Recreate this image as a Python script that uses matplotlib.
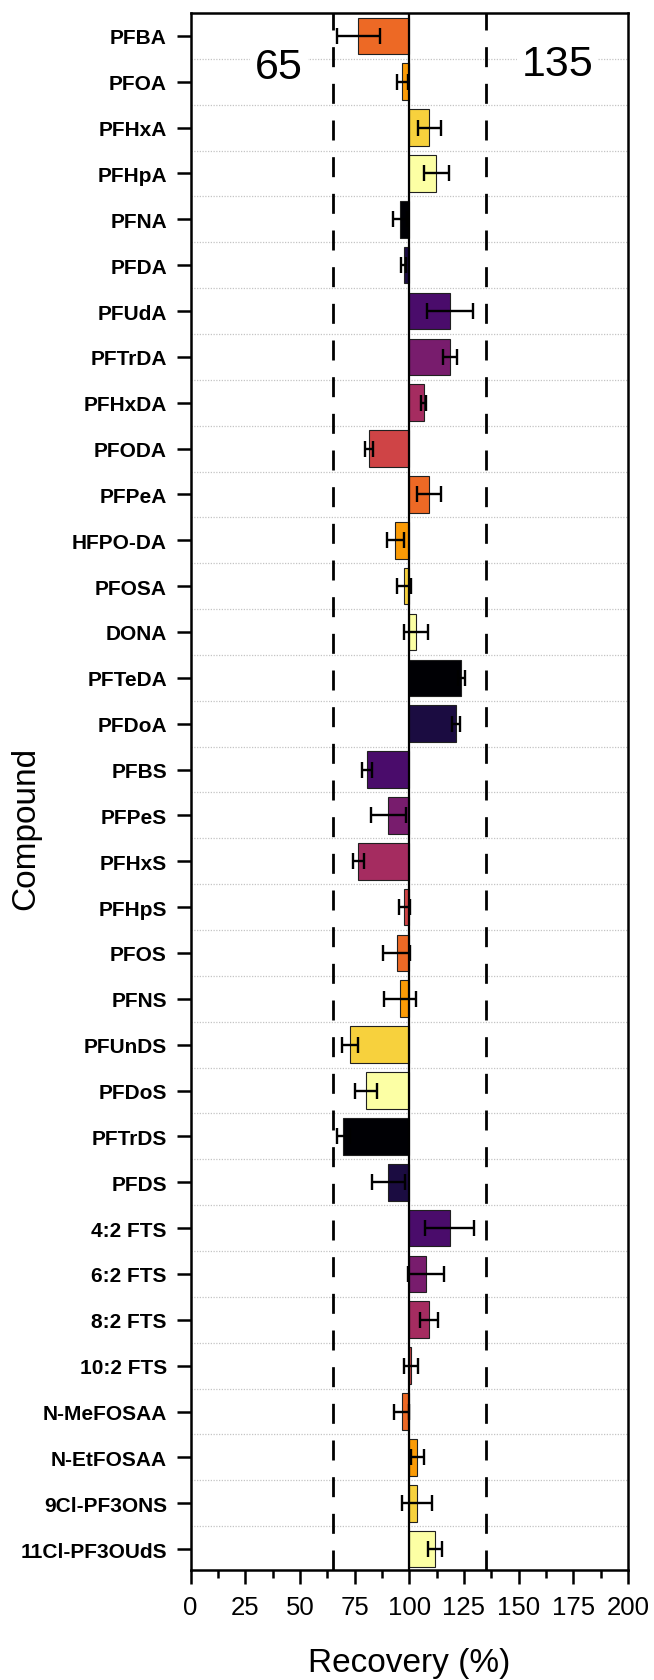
import numpy as np
import matplotlib
matplotlib.use("Agg")
import matplotlib.pyplot as plt
from matplotlib.ticker import MultipleLocator

# Compounds, top to bottom
compounds = ["PFBA", "PFOA", "PFHxA", "PFHpA", "PFNA", "PFDA", "PFUdA",
             "PFTrDA", "PFHxDA", "PFODA", "PFPeA", "HFPO-DA", "PFOSA",
             "DONA", "PFTeDA", "PFDoA", "PFBS", "PFPeS", "PFHxS", "PFHpS",
             "PFOS", "PFNS", "PFUnDS", "PFDoS", "PFTrDS", "PFDS",
             "4:2 FTS", "6:2 FTS", "8:2 FTS", "10:2 FTS", "N-MeFOSAA",
             "N-EtFOSAA", "9Cl-PF3ONS", "11Cl-PF3OUdS"]
# Mean recovery (%)
recovery = [76.8, 96.9, 109.1, 112.3, 96.0, 97.4, 118.6, 118.6, 106.6, 81.6,
            109.1, 93.6, 97.8, 103.0, 123.8, 121.3, 80.8, 90.4, 76.8, 97.8,
            94.2, 95.7, 72.8, 80.2, 69.9, 90.4, 118.6, 107.7, 109.1, 100.6,
            96.5, 103.7, 103.7, 111.7]
# Standard deviation (%)
std_dev = [9.7, 2.4, 5.2, 5.7, 3.2, 1.1, 10.5, 3.2, 1.0, 1.7,
           5.5, 3.8, 3.2, 5.4, 1.5, 1.7, 2.3, 7.9, 2.5, 2.7,
           6.3, 7.2, 3.7, 5.1, 3.0, 7.5, 11.2, 8.1, 4.1, 3.2,
           3.3, 3.1, 6.9, 3.2]
# Acceptance limits
limits = [65, 135]

plt.rcParams["font.family"] = ["Liberation Sans", "DejaVu Sans"]

fig = plt.figure(figsize=(6.54, 16.81), dpi=100)
ax = fig.add_axes([0.2913, 0.0656, 0.6689, 0.9261])

# inferno palette, 10 steps, starting at the orange one
palette = plt.get_cmap("inferno")(np.linspace(0, 1, 10))
colors = [palette[(i + 6) % 10] for i in range(len(compounds))]

y = np.arange(len(compounds))
rec = np.array(recovery)

# dotted separators between compounds
for i in range(len(compounds) - 1):
    ax.axhline(i + 0.5, color="#c4c4c4", ls=(0, (1, 1.2)), lw=0.9, zorder=0)

ax.barh(y, rec - 100, left=100, height=0.8, color=colors,
        edgecolor="#202020", linewidth=0.8, zorder=2)
ax.errorbar(rec, y, xerr=std_dev, fmt="none", ecolor="black",
            elinewidth=1.7, capsize=5.5, capthick=1.7, zorder=4)

ax.axvline(100, color="black", lw=1.6, zorder=3)
for lim in limits:
    ax.axvline(lim, color="black", lw=2.0, dashes=(7.2, 6), zorder=1)

ax.text(40.5, 0.68, "65", fontsize=31, ha="center", va="center", zorder=1,
        bbox=dict(boxstyle="square,pad=0.12", fc="white", ec="none"))
ax.text(167.8, 0.62, "135", fontsize=31, ha="center", va="center", zorder=1,
        bbox=dict(boxstyle="square,pad=0.1", fc="white", ec="none"))

ax.set_xlim(0, 200)
ax.set_ylim(33.45, -0.5)
ax.set_yticks(y)
ax.set_yticklabels(compounds, fontweight="bold")
ax.xaxis.set_major_locator(MultipleLocator(25))
ax.xaxis.set_minor_locator(MultipleLocator(12.5))

ax.tick_params(axis="y", which="major", length=10, width=1.8, pad=7,
               labelsize=15)
ax.tick_params(axis="x", which="major", length=10, width=1.8, pad=8,
               labelsize=18.5)
ax.tick_params(axis="x", which="minor", length=6, width=1.8)
for s in ax.spines.values():
    s.set_linewidth(1.8)

ax.set_xlabel("Recovery (%)", fontsize=24)
ax.set_ylabel("Compound", fontsize=24)
ax.xaxis.set_label_coords(0.5, -0.0593)
ax.xaxis.label.set_va("center")
ax.yaxis.set_label_coords(-0.376, 0.477)
ax.yaxis.label.set_va("center")

fig.savefig("out.png", dpi=100)
